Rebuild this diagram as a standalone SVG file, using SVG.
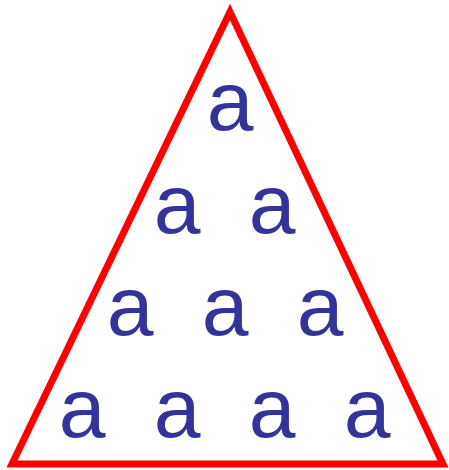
<svg xmlns="http://www.w3.org/2000/svg" width="449" height="470" viewBox="0 0 449 470">
<style>
.t{font-family:"Liberation Sans",Arial,sans-serif;font-size:84px;fill:#333399;text-anchor:middle}
</style>
<rect width="449" height="470" fill="#ffffff"/>
<g id="triangle"><polygon points="230,12 443,464 12,464" fill="none" stroke="#ff0000" stroke-width="7"/></g>
<g id="letters">
<text class="t" x="230" y="130">a</text>
<text class="t" x="177" y="233">a</text>
<text class="t" x="272" y="233">a</text>
<text class="t" x="130" y="335">a</text>
<text class="t" x="225" y="335">a</text>
<text class="t" x="320" y="335">a</text>
<text class="t" x="82" y="437">a</text>
<text class="t" x="177" y="437">a</text>
<text class="t" x="272" y="437">a</text>
<text class="t" x="367" y="437">a</text>
</g>
</svg>
